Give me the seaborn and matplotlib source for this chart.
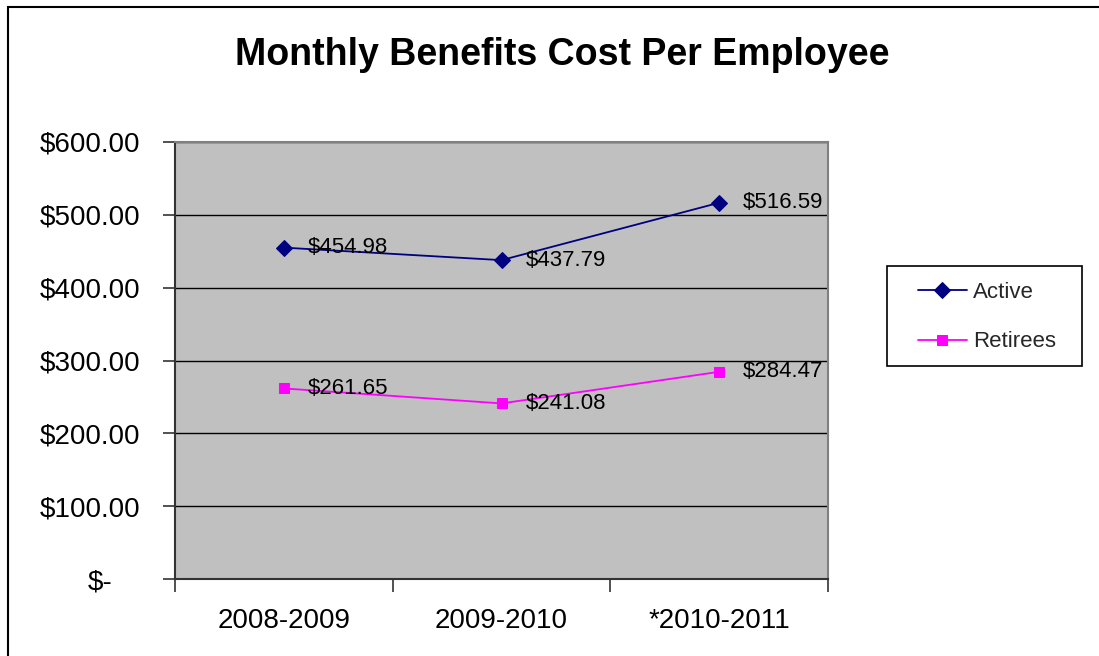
import matplotlib
matplotlib.use("Agg")
import matplotlib.pyplot as plt
import matplotlib.transforms as mtransforms
from matplotlib.patches import Rectangle
from matplotlib.ticker import FixedLocator, FuncFormatter
import seaborn as sns
import pandas as pd

# Fiscal years and monthly cost per employee (USD)
years = ["2008-2009", "2009-2010", "*2010-2011"]
active = [454.98, 437.79, 516.59]
retirees = [261.65, 241.08, 284.47]
series_names = ["Active", "Retirees"]
series_colors = ["#000080", "#FF00FF"]
series_markers = ["D", "s"]

sns.set_theme(style="white")
plt.rcParams["font.family"] = ["Liberation Sans", "DejaVu Sans"]

W, H = 1099, 656
fig = plt.figure(figsize=(W / 100, H / 100), dpi=100)
fig.patch.set_facecolor("white")

ax = fig.add_axes([175 / W, 1 - 579 / H, (828 - 175) / W, (579 - 142) / H])
ax.set_facecolor("#C0C0C0")

df = pd.DataFrame({
    "year": years * 2,
    "cost": active + retirees,
    "series": [series_names[0]] * len(years) + [series_names[1]] * len(years),
})

for name, color, marker in zip(series_names, series_colors, series_markers):
    sub = df[df["series"] == name]
    sns.lineplot(data=sub, x="year", y="cost", ax=ax, color=color, marker=marker,
                 markersize=8 if marker == "D" else 7.5, markeredgecolor=color,
                 linewidth=1.3, label=name, sort=False)
    for i, v in enumerate(sub["cost"]):
        ax.annotate(f"${v:,.2f}", xy=(i, v), xytext=(24, 0), textcoords="offset pixels",
                    ha="left", va="center", fontsize=16, color="black")

ax.set_xlim(-0.5, 2.5)
ax.set_ylim(0, 600)
ax.set_xlabel("")
ax.set_ylabel("")

# y axis: dollar labels, gridlines every 100
ax.yaxis.set_major_locator(FixedLocator([0, 100, 200, 300, 400, 500, 600]))
ax.yaxis.set_major_formatter(FuncFormatter(lambda v, p: "$-" if v == 0 else f"${v:,.2f}"))
ax.grid(axis="y", color="black", linewidth=1.0)
ax.grid(axis="x", visible=False)
ax.tick_params(axis="y", which="major", left=True, length=9, width=1.2, color="#333333",
               labelsize=20, pad=16, labelcolor="black")

# x axis: tick marks at category boundaries, labels at category centres
ax.xaxis.set_major_locator(FixedLocator([-0.5, 0.5, 1.5, 2.5]))
ax.xaxis.set_major_formatter(FuncFormatter(lambda v, p: ""))
ax.xaxis.set_minor_locator(FixedLocator([0, 1, 2]))
ax.xaxis.set_minor_formatter(FuncFormatter(lambda v, p: years[int(round(v))]))
ax.tick_params(axis="x", which="major", bottom=True, length=9, width=1.2, color="#333333")
ax.tick_params(axis="x", which="minor", bottom=True, length=0, labelsize=20, pad=21,
               labelcolor="black")

for side in ["top", "right"]:
    ax.spines[side].set_color("#808080")
    ax.spines[side].set_linewidth(1.5)
for side in ["left", "bottom"]:
    ax.spines[side].set_color("#333333")
    ax.spines[side].set_linewidth(1.5)
ax.set_axisbelow(True)

# shift the zero label to its accounting-format position
fig.canvas.draw()
for t in ax.yaxis.get_major_ticks():
    if abs(t.get_loc()) < 1e-9:
        off = mtransforms.ScaledTranslation(-28 / 100, 0, fig.dpi_scale_trans)
        t.label1.set_transform(t.label1.get_transform() + off)

# legend: entries without frame, boxed by a separate rectangle
handles, labels = ax.get_legend_handles_labels()
leg = ax.legend(handles, labels, loc="upper left",
                bbox_to_anchor=(918 / W, 1 - 282 / H), bbox_transform=fig.transFigure,
                fontsize=16, frameon=False, borderpad=0, handlelength=2.2,
                handletextpad=0.27, labelspacing=1.28, borderaxespad=0)
fig.add_artist(Rectangle((887 / W, 1 - 366 / H), (1082 - 887) / W, 100 / H, fill=False,
                         edgecolor="black", linewidth=1.2, transform=fig.transFigure))

# title
fig.text(562 / W, 1 - 55 / H, "Monthly Benefits Cost Per Employee", ha="center",
         va="center", fontsize=27, fontweight="bold", color="black")

# chart border
fig.add_artist(Rectangle((8 / W, -0.5), 2, (1 - 7 / H) + 0.5, fill=False,
                         edgecolor="black", linewidth=1.5, transform=fig.transFigure))

fig.savefig("out.png", dpi=100)
